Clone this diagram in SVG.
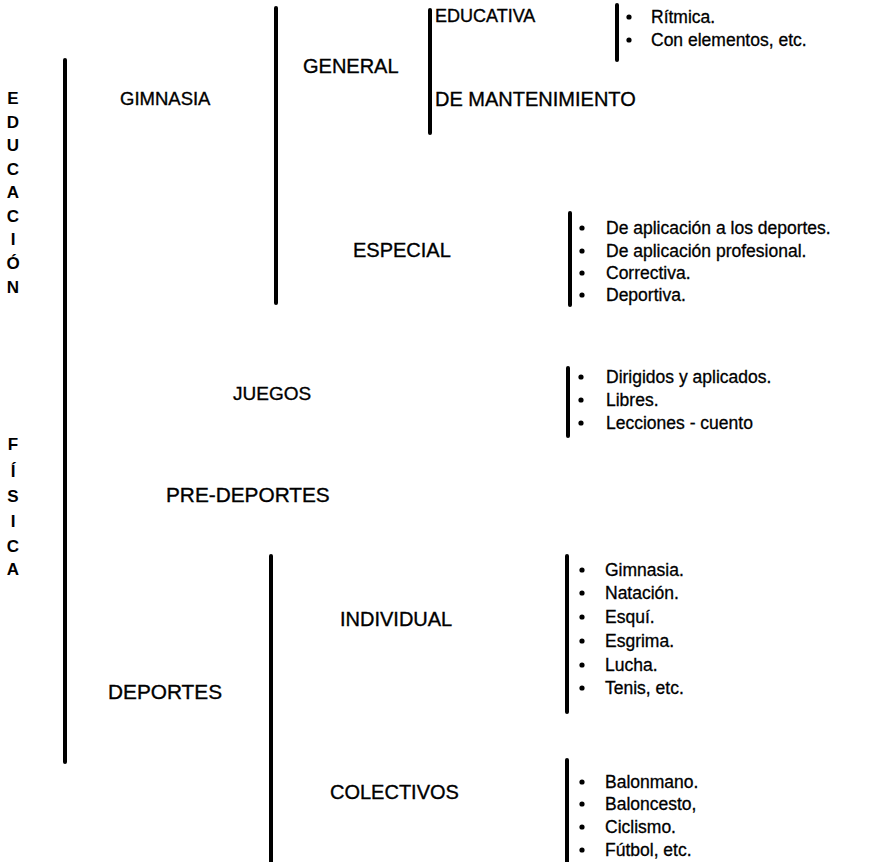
<svg xmlns="http://www.w3.org/2000/svg" width="880" height="862" viewBox="0 0 880 862">
<style>
.bg{fill:#fff}
.bar{stroke:#000;stroke-width:4;stroke-linecap:round}
.lbl{font-family:"Liberation Sans",Arial,sans-serif;font-size:20px;fill:#000;stroke:#000;stroke-width:0.35}
.item{font-family:"Liberation Sans",Arial,sans-serif;font-size:17.5px;fill:#000;stroke:#000;stroke-width:0.3}
.vert{font-family:"Liberation Sans",Arial,sans-serif;font-size:17px;font-weight:bold;fill:#000;text-anchor:middle}
.dot{fill:#000}
</style>
<rect class="bg" x="0" y="0" width="880" height="862"/>
<g id="connectors">
<line class="bar" x1="65" y1="60" x2="65" y2="762"/>
<line class="bar" x1="276" y1="8" x2="276" y2="303"/>
<line class="bar" x1="430" y1="10" x2="430" y2="133"/>
<line class="bar" x1="617" y1="5" x2="617" y2="60"/>
<line class="bar" x1="570" y1="213" x2="570" y2="305"/>
<line class="bar" x1="568" y1="368" x2="568" y2="436"/>
<line class="bar" x1="271" y1="556" x2="271" y2="862"/>
<line class="bar" x1="567" y1="556" x2="567" y2="712"/>
<line class="bar" x1="567" y1="760" x2="567" y2="862"/>
</g>
<g id="educacion-fisica">
<text class="vert" x="13" y="104">E</text>
<text class="vert" x="13" y="128">D</text>
<text class="vert" x="13" y="151">U</text>
<text class="vert" x="13" y="175">C</text>
<text class="vert" x="13" y="198">A</text>
<text class="vert" x="13" y="222">C</text>
<text class="vert" x="13" y="245">I</text>
<text class="vert" x="13" y="269">Ó</text>
<text class="vert" x="13" y="293">N</text>
<text class="vert" x="13" y="450">F</text>
<text class="vert" x="13" y="477">Í</text>
<text class="vert" x="13" y="502">S</text>
<text class="vert" x="13" y="527">I</text>
<text class="vert" x="13" y="552">C</text>
<text class="vert" x="13" y="575">A</text>
</g>
<g id="gimnasia"><text class="lbl" x="120" y="105" style="font-size:18.5px">GIMNASIA</text></g>
<g id="general"><text class="lbl" x="303" y="73">GENERAL</text></g>
<g id="educativa"><text class="lbl" x="435" y="22" style="font-size:18px">EDUCATIVA</text></g>
<g id="mantenimiento"><text class="lbl" x="435" y="106">DE MANTENIMIENTO</text></g>
<g id="educativa-list">
<circle class="dot" cx="629" cy="17" r="2.6"/><text class="item" x="651" y="23">Rítmica.</text>
<circle class="dot" cx="629" cy="40" r="2.6"/><text class="item" x="651" y="46">Con elementos, etc.</text>
</g>
<g id="especial"><text class="lbl" x="353" y="257">ESPECIAL</text></g>
<g id="especial-list">
<circle class="dot" cx="582" cy="228" r="2.6"/><text class="item" x="606" y="234">De aplicación a los deportes.</text>
<circle class="dot" cx="582" cy="251" r="2.6"/><text class="item" x="606" y="257">De aplicación profesional.</text>
<circle class="dot" cx="582" cy="273" r="2.6"/><text class="item" x="606" y="279">Correctiva.</text>
<circle class="dot" cx="582" cy="295" r="2.6"/><text class="item" x="606" y="301">Deportiva.</text>
</g>
<g id="juegos"><text class="lbl" x="233" y="400" style="font-size:19px">JUEGOS</text></g>
<g id="juegos-list">
<circle class="dot" cx="581" cy="377" r="2.6"/><text class="item" x="606" y="383">Dirigidos y aplicados.</text>
<circle class="dot" cx="581" cy="400" r="2.6"/><text class="item" x="606" y="406">Libres.</text>
<circle class="dot" cx="581" cy="423" r="2.6"/><text class="item" x="606" y="429">Lecciones - cuento</text>
</g>
<g id="predeportes"><text class="lbl" x="166" y="502" style="font-size:20.8px">PRE-DEPORTES</text></g>
<g id="deportes"><text class="lbl" x="108" y="699" style="font-size:20.8px">DEPORTES</text></g>
<g id="individual"><text class="lbl" x="340" y="626">INDIVIDUAL</text></g>
<g id="individual-list">
<circle class="dot" cx="582" cy="570" r="2.6"/><text class="item" x="605" y="576">Gimnasia.</text>
<circle class="dot" cx="582" cy="593" r="2.6"/><text class="item" x="605" y="599">Natación.</text>
<circle class="dot" cx="582" cy="617" r="2.6"/><text class="item" x="605" y="623">Esquí.</text>
<circle class="dot" cx="582" cy="641" r="2.6"/><text class="item" x="605" y="647">Esgrima.</text>
<circle class="dot" cx="582" cy="665" r="2.6"/><text class="item" x="605" y="671">Lucha.</text>
<circle class="dot" cx="582" cy="688" r="2.6"/><text class="item" x="605" y="694">Tenis, etc.</text>
</g>
<g id="colectivos"><text class="lbl" x="330" y="799">COLECTIVOS</text></g>
<g id="colectivos-list">
<circle class="dot" cx="582" cy="782" r="2.6"/><text class="item" x="605" y="788">Balonmano.</text>
<circle class="dot" cx="582" cy="804" r="2.6"/><text class="item" x="605" y="810">Baloncesto,</text>
<circle class="dot" cx="582" cy="827" r="2.6"/><text class="item" x="605" y="833">Ciclismo.</text>
<circle class="dot" cx="582" cy="850" r="2.6"/><text class="item" x="605" y="856">Fútbol, etc.</text>
</g>
</svg>
